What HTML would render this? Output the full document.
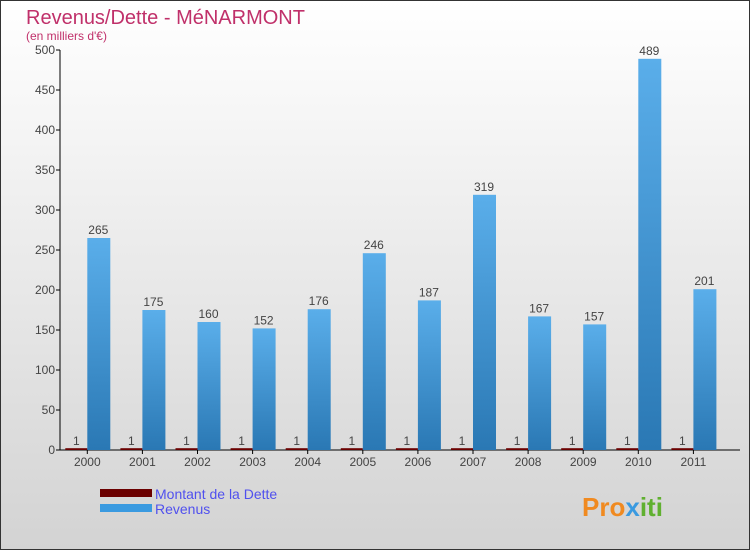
<!DOCTYPE html>
<html><head><meta charset="utf-8"><style>
body{margin:0}
#c{width:750px;height:550px;position:relative;overflow:hidden;box-sizing:border-box;border:1px solid #333;background:linear-gradient(#ffffff,#d3d3d3);font-family:"Liberation Sans",sans-serif}
</style></head><body>
<div id="c">
<svg width="750" height="550" style="position:absolute;left:-1px;top:-1px" id="svg">
<defs><linearGradient id="bg" x1="0" y1="0" x2="0" y2="1"><stop offset="0" stop-color="#5aaeea"/><stop offset="1" stop-color="#2a78b4"/></linearGradient></defs>
<text x="26" y="24" font-size="20" fill="#c0306a">Revenus/Dette - MéNARMONT</text>
<text x="26" y="40" font-size="12" fill="#c0306a">(en milliers d'€)</text>
<g id="plot"></g>
<rect x="100" y="489" width="52" height="8" fill="#6b0000"/>
<text x="155" y="499" font-size="14" fill="#5050ee">Montant de la Dette</text>
<rect x="100" y="504" width="52" height="8" fill="#3a9ae0"/>
<text x="155" y="514" font-size="14" fill="#5050ee">Revenus</text>
<text x="582" y="516" font-size="26" font-weight="bold" fill="#f08a20">Pro<tspan fill="#3a9ae0">x</tspan><tspan fill="#60b030">iti</tspan></text>
</svg>
</div>
<script>
const years=["2000","2001","2002","2003","2004","2005","2006","2007","2008","2009","2010","2011"];
const revenus=[265,175,160,152,176,246,187,319,167,157,489,201];
const dette=[1,1,1,1,1,1,1,1,1,1,1,1];
const ticks=[0,50,100,150,200,250,300,350,400,450,500];
const NS="http://www.w3.org/2000/svg";
const g=document.getElementById("plot");
const y0=450,y1=50,vmax=500,x0=60,gx0=87.3,gw=55.1,bw=22;
const Y=v=>y0-(v/vmax)*(y0-y1);
const X=i=>gx0+i*gw;
function mk(t,a){const e=document.createElementNS(NS,t);for(const k in a)e.setAttribute(k,a[k]);g.appendChild(e);return e;}
let e=mk("line",{x1:x0,y1:y1,x2:x0,y2:y0,stroke:"#000"});


e=mk("line",{x1:x0,y1:y0,x2:740,y2:y0,stroke:"#000"});


ticks.forEach(t=>{
 let l=mk("line",{x1:x0-4,y1:Y(t),x2:x0,y2:Y(t),stroke:"#000"});
 
 
 let tx=mk("text",{x:x0-5,y:Y(t)+4,"font-size":12,fill:"#444","text-anchor":"end"});
 tx.textContent=t;
 
 
});
years.forEach((yr,i)=>{
 const cx=X(i);
 let d=mk("rect",{x:cx-bw,y:Y(dette[i])-1,width:bw,height:y0-Y(dette[i])+1,fill:"#6b0000"});
 
 
 let dl=mk("text",{x:cx-bw/2,y:Y(dette[i])-4,"font-size":12,fill:"#444","text-anchor":"middle"});
 dl.textContent=dette[i];
 
 
 let r=mk("rect",{x:cx,y:Y(revenus[i]),width:bw+1,height:y0-Y(revenus[i]),fill:"url(#bg)"});
 
 
 let rl=mk("text",{x:cx+bw/2,y:Y(revenus[i])-4,"font-size":12,fill:"#444","text-anchor":"middle"});
 rl.textContent=revenus[i];
 
 
 let tk=mk("line",{x1:cx,y1:y0,x2:cx,y2:y0+4,stroke:"#000"});
 
 
 let xl=mk("text",{x:cx,y:y0+16,"font-size":12,fill:"#444","text-anchor":"middle"});
 xl.textContent=yr;
 
 
});
</script>
</body></html>
